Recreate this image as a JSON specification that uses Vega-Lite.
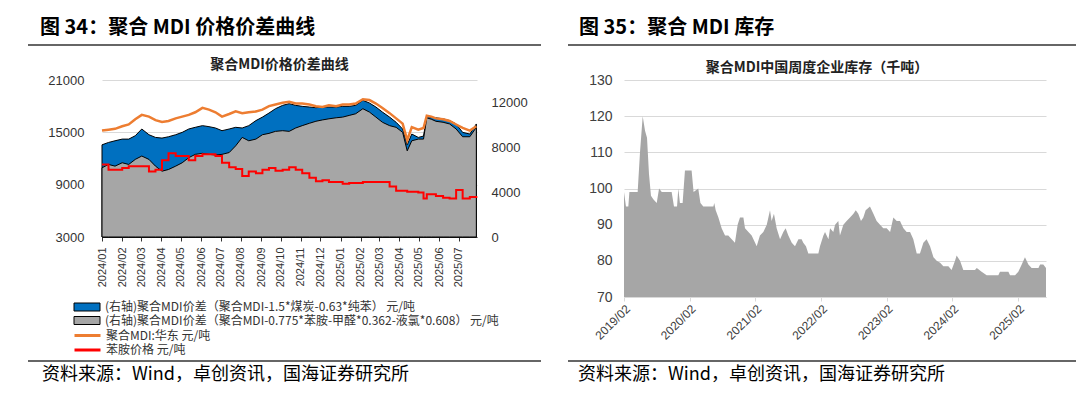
{
 "$schema": "https://vega.github.io/schema/vega-lite/v6.json",
 "background": "white",
 "padding": {"left": 27, "top": 18, "right": 0, "bottom": 0},
 "config": {"view": {"stroke": null}, "font": "Noto Sans CJK SC"},
 "spacing": 0,
 "datasets": {
  "mdi": [
   {"date": "2024-01-01", "s1": 8220, "s2": 6170, "mdi": 15200, "ani": 11300},
   {"date": "2024-01-11", "s1": 8430, "s2": 6470, "mdi": 15300, "ani": 10700},
   {"date": "2024-01-21", "s1": 8580, "s2": 6320, "mdi": 15400, "ani": 10700},
   {"date": "2024-02-01", "s1": 8730, "s2": 6620, "mdi": 15700, "ani": 10900},
   {"date": "2024-02-11", "s1": 8730, "s2": 6470, "mdi": 15900, "ani": 11100},
   {"date": "2024-02-21", "s1": 9030, "s2": 6920, "mdi": 16500, "ani": 11100},
   {"date": "2024-03-02", "s1": 9630, "s2": 7220, "mdi": 17000, "ani": 11100},
   {"date": "2024-03-13", "s1": 9120, "s2": 6920, "mdi": 16800, "ani": 10500},
   {"date": "2024-03-23", "s1": 8880, "s2": 6320, "mdi": 16400, "ani": 10700},
   {"date": "2024-04-02", "s1": 8820, "s2": 5870, "mdi": 16200, "ani": 11800},
   {"date": "2024-04-12", "s1": 8940, "s2": 6020, "mdi": 16300, "ani": 12600},
   {"date": "2024-04-23", "s1": 9120, "s2": 6320, "mdi": 16600, "ani": 12300},
   {"date": "2024-05-03", "s1": 9330, "s2": 6620, "mdi": 16800, "ani": 12300},
   {"date": "2024-05-13", "s1": 9630, "s2": 7070, "mdi": 17000, "ani": 11800},
   {"date": "2024-05-23", "s1": 9780, "s2": 7370, "mdi": 17300, "ani": 12300},
   {"date": "2024-06-03", "s1": 9930, "s2": 7460, "mdi": 17800, "ani": 12500},
   {"date": "2024-06-13", "s1": 9840, "s2": 7370, "mdi": 17600, "ani": 12500},
   {"date": "2024-06-23", "s1": 9720, "s2": 7310, "mdi": 17300, "ani": 12300},
   {"date": "2024-07-03", "s1": 9480, "s2": 7370, "mdi": 16800, "ani": 11500},
   {"date": "2024-07-14", "s1": 9630, "s2": 7530, "mdi": 17100, "ani": 11000},
   {"date": "2024-07-24", "s1": 9780, "s2": 8130, "mdi": 17400, "ani": 10800},
   {"date": "2024-08-03", "s1": 9720, "s2": 8880, "mdi": 17200, "ani": 10000},
   {"date": "2024-08-13", "s1": 9930, "s2": 8580, "mdi": 17300, "ani": 10500},
   {"date": "2024-08-24", "s1": 10380, "s2": 8730, "mdi": 17400, "ani": 10300},
   {"date": "2024-09-03", "s1": 10690, "s2": 9120, "mdi": 17600, "ani": 10700},
   {"date": "2024-09-13", "s1": 11050, "s2": 9240, "mdi": 18000, "ani": 10900},
   {"date": "2024-09-23", "s1": 11440, "s2": 9420, "mdi": 18200, "ani": 10600},
   {"date": "2024-10-04", "s1": 11740, "s2": 9480, "mdi": 18400, "ani": 10700},
   {"date": "2024-10-14", "s1": 11890, "s2": 9420, "mdi": 18500, "ani": 11000},
   {"date": "2024-10-24", "s1": 11740, "s2": 9720, "mdi": 18300, "ani": 10700},
   {"date": "2024-11-03", "s1": 11650, "s2": 9930, "mdi": 18300, "ani": 10300},
   {"date": "2024-11-14", "s1": 11590, "s2": 10140, "mdi": 18200, "ani": 9800},
   {"date": "2024-11-24", "s1": 11530, "s2": 10320, "mdi": 18000, "ani": 9400},
   {"date": "2024-12-04", "s1": 11590, "s2": 10440, "mdi": 17900, "ani": 9500},
   {"date": "2024-12-14", "s1": 11590, "s2": 10540, "mdi": 18100, "ani": 9300},
   {"date": "2024-12-25", "s1": 11590, "s2": 10630, "mdi": 18000, "ani": 9300},
   {"date": "2025-01-04", "s1": 11650, "s2": 10690, "mdi": 18200, "ani": 9100},
   {"date": "2025-01-14", "s1": 11650, "s2": 10840, "mdi": 18200, "ani": 9200},
   {"date": "2025-01-24", "s1": 11740, "s2": 10990, "mdi": 18300, "ani": 9200},
   {"date": "2025-02-04", "s1": 12190, "s2": 11440, "mdi": 18800, "ani": 9300},
   {"date": "2025-02-14", "s1": 11950, "s2": 11140, "mdi": 18700, "ani": 9300},
   {"date": "2025-02-24", "s1": 11590, "s2": 10690, "mdi": 18300, "ani": 9300},
   {"date": "2025-03-06", "s1": 11140, "s2": 10230, "mdi": 17800, "ani": 9300},
   {"date": "2025-03-17", "s1": 10690, "s2": 9930, "mdi": 17200, "ani": 8800},
   {"date": "2025-03-27", "s1": 10230, "s2": 9780, "mdi": 16600, "ani": 8300},
   {"date": "2025-04-06", "s1": 9630, "s2": 9330, "mdi": 16000, "ani": 8300},
   {"date": "2025-04-13", "s1": 8220, "s2": 7680, "mdi": 14100, "ani": 8200},
   {"date": "2025-04-20", "s1": 9180, "s2": 8580, "mdi": 15600, "ani": 8200},
   {"date": "2025-04-30", "s1": 8880, "s2": 8730, "mdi": 15300, "ani": 8100},
   {"date": "2025-05-08", "s1": 9000, "s2": 8730, "mdi": 15500, "ani": 7400},
   {"date": "2025-05-13", "s1": 10750, "s2": 10630, "mdi": 16900, "ani": 7900},
   {"date": "2025-05-20", "s1": 10690, "s2": 10500, "mdi": 16800, "ani": 7900},
   {"date": "2025-05-27", "s1": 10630, "s2": 10320, "mdi": 16600, "ani": 7700},
   {"date": "2025-06-07", "s1": 10540, "s2": 10230, "mdi": 16500, "ani": 7500},
   {"date": "2025-06-17", "s1": 10380, "s2": 10080, "mdi": 16300, "ani": 7400},
   {"date": "2025-06-27", "s1": 10080, "s2": 9630, "mdi": 15900, "ani": 8400},
   {"date": "2025-07-07", "s1": 9330, "s2": 8940, "mdi": 15500, "ani": 7400},
   {"date": "2025-07-18", "s1": 9180, "s2": 8940, "mdi": 15200, "ani": 7600},
   {"date": "2025-07-28", "s1": 10080, "s2": 9780, "mdi": 15700, "ani": 7700}
  ],
  "inv": [
   {"date": "2019-02-01", "v": 99}, {"date": "2019-02-12", "v": 95}, {"date": "2019-02-25", "v": 95},
   {"date": "2019-03-03", "v": 99}, {"date": "2019-04-18", "v": 99}, {"date": "2019-05-01", "v": 110},
   {"date": "2019-05-16", "v": 120}, {"date": "2019-05-29", "v": 116}, {"date": "2019-06-09", "v": 114},
   {"date": "2019-06-20", "v": 104}, {"date": "2019-07-01", "v": 98}, {"date": "2019-07-14", "v": 97},
   {"date": "2019-08-02", "v": 96}, {"date": "2019-08-15", "v": 100}, {"date": "2019-08-30", "v": 99},
   {"date": "2019-10-24", "v": 99}, {"date": "2019-11-06", "v": 95}, {"date": "2019-11-23", "v": 95},
   {"date": "2019-11-30", "v": 100}, {"date": "2019-12-09", "v": 96}, {"date": "2019-12-24", "v": 96},
   {"date": "2020-01-06", "v": 105}, {"date": "2020-02-12", "v": 105}, {"date": "2020-02-23", "v": 99},
   {"date": "2020-03-20", "v": 100}, {"date": "2020-04-01", "v": 96}, {"date": "2020-04-17", "v": 95},
   {"date": "2020-06-12", "v": 95}, {"date": "2020-06-17", "v": 96}, {"date": "2020-06-25", "v": 94},
   {"date": "2020-07-10", "v": 92}, {"date": "2020-07-28", "v": 89}, {"date": "2020-08-16", "v": 87},
   {"date": "2020-09-03", "v": 87}, {"date": "2020-09-22", "v": 86}, {"date": "2020-10-10", "v": 85},
   {"date": "2020-10-25", "v": 90}, {"date": "2020-11-07", "v": 92}, {"date": "2020-11-26", "v": 92},
   {"date": "2020-12-05", "v": 89}, {"date": "2020-12-24", "v": 88}, {"date": "2021-01-11", "v": 87},
   {"date": "2021-01-30", "v": 85}, {"date": "2021-02-08", "v": 84}, {"date": "2021-02-26", "v": 87},
   {"date": "2021-03-17", "v": 88}, {"date": "2021-04-05", "v": 90}, {"date": "2021-04-23", "v": 94},
   {"date": "2021-05-02", "v": 91}, {"date": "2021-05-15", "v": 93}, {"date": "2021-05-30", "v": 89},
   {"date": "2021-06-18", "v": 86}, {"date": "2021-07-06", "v": 88}, {"date": "2021-07-19", "v": 89},
   {"date": "2021-08-03", "v": 87}, {"date": "2021-08-22", "v": 85}, {"date": "2021-09-09", "v": 84},
   {"date": "2021-09-28", "v": 86}, {"date": "2021-10-16", "v": 86}, {"date": "2021-10-25", "v": 85},
   {"date": "2021-11-09", "v": 84}, {"date": "2021-11-22", "v": 82}, {"date": "2022-01-17", "v": 82},
   {"date": "2022-01-26", "v": 84}, {"date": "2022-02-14", "v": 87}, {"date": "2022-02-23", "v": 88},
   {"date": "2022-03-14", "v": 86}, {"date": "2022-03-23", "v": 89}, {"date": "2022-04-10", "v": 88},
   {"date": "2022-04-20", "v": 90}, {"date": "2022-05-08", "v": 91}, {"date": "2022-05-17", "v": 87},
   {"date": "2022-06-05", "v": 90}, {"date": "2022-06-23", "v": 91}, {"date": "2022-07-12", "v": 92},
   {"date": "2022-07-31", "v": 93}, {"date": "2022-08-13", "v": 94}, {"date": "2022-08-27", "v": 93},
   {"date": "2022-09-11", "v": 91}, {"date": "2022-09-24", "v": 92}, {"date": "2022-10-07", "v": 94},
   {"date": "2022-10-31", "v": 95}, {"date": "2022-11-19", "v": 93}, {"date": "2022-12-07", "v": 91},
   {"date": "2022-12-26", "v": 90}, {"date": "2023-01-13", "v": 89}, {"date": "2023-02-01", "v": 89},
   {"date": "2023-02-20", "v": 88}, {"date": "2023-03-10", "v": 92}, {"date": "2023-03-29", "v": 91},
   {"date": "2023-04-16", "v": 91}, {"date": "2023-05-05", "v": 89}, {"date": "2023-05-23", "v": 88},
   {"date": "2023-06-11", "v": 88}, {"date": "2023-06-29", "v": 86}, {"date": "2023-07-18", "v": 82},
   {"date": "2023-08-05", "v": 82}, {"date": "2023-08-24", "v": 85}, {"date": "2023-09-11", "v": 86},
   {"date": "2023-09-30", "v": 84}, {"date": "2023-10-19", "v": 81}, {"date": "2023-11-06", "v": 80},
   {"date": "2023-11-25", "v": 79.5}, {"date": "2023-12-13", "v": 78.5}, {"date": "2024-01-10", "v": 78.5},
   {"date": "2024-01-28", "v": 77.5}, {"date": "2024-02-16", "v": 80}, {"date": "2024-02-25", "v": 81.5},
   {"date": "2024-03-15", "v": 80}, {"date": "2024-04-02", "v": 77.5}, {"date": "2024-06-06", "v": 77.5},
   {"date": "2024-06-16", "v": 78}, {"date": "2024-07-13", "v": 77}, {"date": "2024-08-10", "v": 76},
   {"date": "2024-10-14", "v": 76}, {"date": "2024-10-23", "v": 77}, {"date": "2024-12-09", "v": 77},
   {"date": "2024-12-18", "v": 76}, {"date": "2025-01-15", "v": 76}, {"date": "2025-02-02", "v": 77},
   {"date": "2025-02-21", "v": 79}, {"date": "2025-03-11", "v": 81}, {"date": "2025-03-30", "v": 79},
   {"date": "2025-04-17", "v": 78}, {"date": "2025-05-25", "v": 78}, {"date": "2025-06-03", "v": 79},
   {"date": "2025-06-21", "v": 79}, {"date": "2025-07-06", "v": 78}
  ]
 },
 "vconcat": [
  {
   "spacing": 25,
   "hconcat": [
    {
     "width": 439, "height": 13,
     "title": {"text": "图 34：聚合 MDI 价格价差曲线", "anchor": "start", "fontSize": 20, "fontWeight": "bold", "dx": 13, "offset": 6, "color": "#000", "font": "Noto Sans CJK SC"},
     "data": {"values": [{"k": 1}]},
     "mark": {"type": "rule", "color": "#666", "strokeWidth": 2},
     "encoding": {
      "x": {"datum": -74, "type": "quantitative", "scale": {"domain": [0, 439], "nice": false, "zero": false}, "axis": null},
      "x2": {"datum": 439},
      "y": {"datum": 1, "type": "quantitative", "scale": {"domain": [0, 1], "nice": false}, "axis": null}
     }
    },
    {
     "width": 451, "height": 13,
     "title": {"text": "图 35：聚合 MDI 库存", "anchor": "start", "fontSize": 20, "fontWeight": "bold", "dx": 12, "offset": 6, "color": "#000", "font": "Noto Sans CJK SC"},
     "data": {"values": [{"k": 1}]},
     "mark": {"type": "rule", "color": "#666", "strokeWidth": 2},
     "encoding": {
      "x": {"datum": -57, "type": "quantitative", "scale": {"domain": [0, 451], "nice": false, "zero": false}, "axis": null},
      "x2": {"datum": 451},
      "y": {"datum": 1, "type": "quantitative", "scale": {"domain": [0, 1], "nice": false}, "axis": null}
     }
    }
   ]
  },
  {
   "spacing": 39,
   "hconcat": [
    {
     "data": {"name": "mdi"},
     "width": 375, "height": 157,
     "title": {"text": "聚合MDI价格价差曲线", "fontSize": 14, "fontWeight": "bold", "offset": 2, "frame": "group", "dx": -10, "color": "#222"},
     "layer": [
      {
       "layer": [
        {
         "mark": {"type": "area", "stroke": "#000", "strokeWidth": 1},
         "encoding": {
          "x": {"field": "date", "type": "temporal",
                "scale": {"domain": [{"year": 2024, "month": 1, "date": 1}, {"year": 2025, "month": 7, "date": 29}]},
                "axis": {"format": "%Y/%m", "labelAngle": -90, "tickCount": {"interval": "month", "step": 1}, "labelFontSize": 11, "labelColor": "#333", "labelFont": "Liberation Sans", "tickColor": "#333", "domainColor": "#333", "tickSize": 4, "grid": false, "labelPadding": 6, "labelOverlap": false, "title": null}},
          "y": {"field": "s1", "type": "quantitative", "scale": {"domain": [0, 14000], "nice": false},
                "axis": {"orient": "right", "values": [0, 2000, 4000, 6000, 8000, 10000, 12000, 14000], "format": "d", "labelOverlap": false, "ticks": false, "domain": false, "grid": false, "labelPadding": 14, "labelFontSize": 13, "labelFont": "Liberation Sans", "labelColor": "#333", "title": null}},
          "fill": {"datum": "(右轴)聚合MDI价差（聚合MDI-1.5*煤炭-0.63*纯苯） 元/吨", "type": "nominal",
                   "scale": {"domain": ["(右轴)聚合MDI价差（聚合MDI-1.5*煤炭-0.63*纯苯） 元/吨", "(右轴)聚合MDI价差（聚合MDI-0.775*苯胺-甲醛*0.362-液氯*0.608） 元/吨"], "range": ["#0070c0", "#a6a6a6"]},
                   "legend": {"orient": "none", "legendX": -29, "legendY": 256, "title": null, "symbolType": "M-1,-0.8H4.2V0.8H-1Z", "symbolSize": 100, "symbolStrokeColor": "#000", "symbolStrokeWidth": 1, "labelFontSize": 12, "labelColor": "#333", "labelLimit": 600, "rowPadding": 1.5, "labelOffset": 20}}
         }
        },
        {
         "mark": {"type": "area", "stroke": "#000", "strokeWidth": 1},
         "encoding": {
          "x": {"field": "date", "type": "temporal"},
          "y": {"field": "s2", "type": "quantitative"},
          "fill": {"datum": "(右轴)聚合MDI价差（聚合MDI-0.775*苯胺-甲醛*0.362-液氯*0.608） 元/吨", "type": "nominal"}
         }
        }
       ]
      },
      {
       "layer": [
        {
         "mark": {"type": "line", "strokeWidth": 2, "interpolate": "step-after"},
         "encoding": {
          "x": {"field": "date", "type": "temporal"},
          "y": {"field": "ani", "type": "quantitative", "scale": {"domain": [3000, 21000], "nice": false, "zero": false},
                "axis": {"orient": "left", "values": [3000, 6000, 9000, 12000, 15000, 18000, 21000], "format": "d", "labelOverlap": false, "grid": true, "gridColor": "#d9d9d9", "ticks": false, "domain": false, "labelPadding": 18, "minExtent": 74, "labelFontSize": 13, "labelFont": "Liberation Sans", "labelColor": "#333", "title": null}},
          "stroke": {"datum": "苯胺价格 元/吨", "type": "nominal",
                     "scale": {"domain": ["聚合MDI:华东 元/吨", "苯胺价格 元/吨"], "range": ["#ed7d31", "#ff0000"]},
                     "legend": {"orient": "none", "legendX": -29, "legendY": 284, "title": null, "symbolType": "M-1,0H4.2", "symbolSize": 100, "symbolStrokeWidth": 3, "labelFontSize": 12, "labelColor": "#333", "labelLimit": 600, "rowPadding": 1.5, "labelOffset": 20}}
         }
        },
        {
         "mark": {"type": "line", "strokeWidth": 2.5},
         "encoding": {
          "x": {"field": "date", "type": "temporal"},
          "y": {"field": "mdi", "type": "quantitative"},
          "stroke": {"datum": "聚合MDI:华东 元/吨", "type": "nominal"}
         }
        }
       ]
      }
     ],
     "resolve": {"scale": {"y": "independent"}}
    },
    {
     "data": {"name": "inv"},
     "width": 422, "height": 217,
     "title": {"text": "聚合MDI中国周度企业库存（千吨）", "fontSize": 14, "fontWeight": "bold", "offset": -2, "frame": "group", "dx": -18, "color": "#222"},
     "mark": {"type": "area", "color": "#a6a6a6", "clip": true},
     "encoding": {
      "x": {"field": "date", "type": "temporal",
            "scale": {"domain": [{"year": 2019, "month": 2, "date": 1}, {"year": 2025, "month": 7, "date": 6}]},
            "axis": {"values": [{"year": 2019, "month": 2, "date": 1}, {"year": 2020, "month": 2, "date": 1}, {"year": 2021, "month": 2, "date": 1}, {"year": 2022, "month": 2, "date": 1}, {"year": 2023, "month": 2, "date": 1}, {"year": 2024, "month": 2, "date": 1}, {"year": 2025, "month": 2, "date": 1}],
                     "format": "%Y/%m", "labelAngle": -45, "labelFontSize": 12, "labelColor": "#404040", "labelFont": "Liberation Sans", "labelOverlap": false, "domainColor": "#d9d9d9", "tickColor": "#d9d9d9", "tickSize": 4, "grid": false, "title": null}},
      "y": {"field": "v", "type": "quantitative", "scale": {"domain": [70, 130], "nice": false, "zero": false},
            "axis": {"values": [70, 80, 90, 100, 110, 120, 130], "labelOverlap": false, "grid": true, "gridColor": "#d9d9d9", "ticks": false, "domain": false, "labelPadding": 12, "minExtent": 57, "labelFontSize": 14, "labelColor": "#404040", "labelFont": "Liberation Sans", "title": null}}
     }
    }
   ]
  },
  {
   "spacing": 25,
   "hconcat": [
    {
     "width": 439, "height": 19,
     "title": {"text": "资料来源：Wind，卓创资讯，国海证券研究所", "orient": "bottom", "anchor": "start", "fontSize": 18, "fontWeight": "normal", "dx": 15, "offset": 4, "color": "#000", "font": "Noto Sans CJK SC"},
     "data": {"values": [{"k": 1}]},
     "mark": {"type": "rule", "color": "#666", "strokeWidth": 2},
     "encoding": {
      "x": {"datum": -74, "type": "quantitative", "scale": {"domain": [0, 439], "nice": false, "zero": false}, "axis": null},
      "x2": {"datum": 439},
      "y": {"datum": 0, "type": "quantitative", "scale": {"domain": [0, 1], "nice": false}, "axis": null}
     }
    },
    {
     "width": 451, "height": 19,
     "title": {"text": "资料来源：Wind，卓创资讯，国海证券研究所", "orient": "bottom", "anchor": "start", "fontSize": 18, "fontWeight": "normal", "dx": 11, "offset": 4, "color": "#000", "font": "Noto Sans CJK SC"},
     "data": {"values": [{"k": 1}]},
     "mark": {"type": "rule", "color": "#666", "strokeWidth": 2},
     "encoding": {
      "x": {"datum": -57, "type": "quantitative", "scale": {"domain": [0, 451], "nice": false, "zero": false}, "axis": null},
      "x2": {"datum": 451},
      "y": {"datum": 0, "type": "quantitative", "scale": {"domain": [0, 1], "nice": false}, "axis": null}
     }
    }
   ]
  }
 ]
}
